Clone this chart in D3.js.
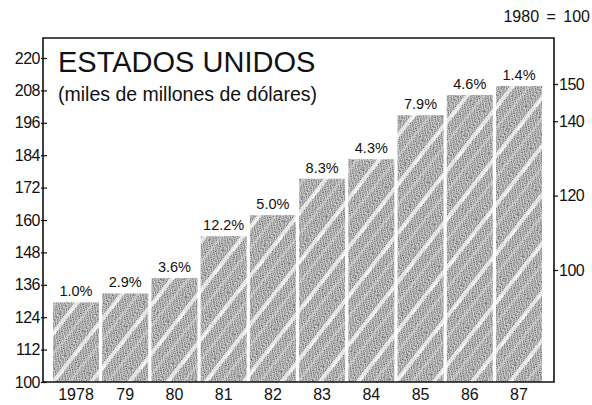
<!DOCTYPE html>
<html><head><meta charset="utf-8">
<script src="https://cdn.jsdelivr.net/npm/d3@7"></script>
<style>body{margin:0;background:#fff}svg{display:block}text{font-family:"Liberation Sans",Arial,sans-serif;fill:#111}</style>
</head><body>
<svg id="c" width="592" height="405"></svg>
<script>
const years = ["1978","79","80","81","82","83","84","85","86","87"];
const values = [129.5,132.8,138.5,154,161.8,175.3,182.5,198.8,206.3,209.6];
const pctLabels = ["1.0%","2.9%","3.6%","12.2%","5.0%","8.3%","4.3%","7.9%","4.6%","1.4%"];
const leftTicks = [100,112,124,136,148,160,172,184,196,208,220];
const rightTicks = [100,120,140,150];
const title = "ESTADOS UNIDOS";
const subtitle = "(miles de millones de dólares)";
const indexNote = "1980 = 100";

const svg = d3.select("#c");
const L = 43, R = 554, T = 38, B = 382;
const FONT = "Liberation Sans, Arial, sans-serif";

const x = d3.scaleBand().domain(years).range([51.5, 543.5]).paddingInner(0.065).paddingOuter(0.03);
const y = d3.scaleLinear().domain([100, 220]).range([B, 58]);
const y2 = d3.scaleLinear().domain([100, 150]).range([270, 84]);

// pattern: halftone grey with light diagonal streaks
const defs = svg.append("defs");
const dots = defs.append("pattern").attr("id","dots").attr("width",4).attr("height",4).attr("patternUnits","userSpaceOnUse");
dots.append("rect").attr("width",4).attr("height",4).attr("fill","#d2d2d2");
[[0,0,"#555"],[2,0,"#8a8a8a"],[1,1,"#6a6a6a"],[3,2,"#5c5c5c"],[0,2,"#9a9a9a"],[2,3,"#7a7a7a"],[1,3,"#aaa"]].forEach(([a,b,c])=>
  dots.append("rect").attr("x",a).attr("y",b).attr("width",1).attr("height",1).attr("fill",c));
const hatch = defs.append("pattern").attr("id","hatch").attr("width",30).attr("height",30)
  .attr("patternUnits","userSpaceOnUse").attr("patternTransform","rotate(-52)");
hatch.append("rect").attr("width",30).attr("height",30).attr("fill","url(#dots)");
hatch.append("rect").attr("x",0).attr("y",5).attr("width",30).attr("height",4).attr("fill","#f7f7f7").attr("opacity",0.75);
hatch.append("rect").attr("x",6).attr("y",7).attr("width",12).attr("height",2).attr("fill","#fff").attr("opacity",0.7);
hatch.append("rect").attr("x",0).attr("y",19).attr("width",30).attr("height",2).attr("fill","#e8e8e8").attr("opacity",0.45);

// bars
svg.append("g").selectAll("rect").data(values).join("rect")
  .attr("x",(d,i)=>x(years[i])).attr("width",x.bandwidth())
  .attr("y",d=>y(d)).attr("height",d=>B-y(d))
  .attr("fill","url(#hatch)");

// pct labels
svg.append("g").selectAll("text").data(values).join("text")
  .attr("x",(d,i)=>x(years[i])+x.bandwidth()/2).attr("y",d=>y(d)-6)
  .attr("text-anchor","middle").attr("font-size",14.5).text((d,i)=>pctLabels[i]);

// frame
svg.append("path").attr("d",`M${L},${B}V${T}H${R}V${B}H${L}`).attr("fill","none").attr("stroke","#111").attr("stroke-width",1.6);

// left axis
const la = svg.append("g").attr("transform",`translate(${L},0)`)
  .call(d3.axisLeft(y).tickValues(leftTicks).tickSize(0).tickPadding(3));
la.select(".domain").remove();
la.selectAll("text").attr("font-size",16).attr("fill","#111").attr("font-family",FONT).attr("letter-spacing",-0.5);
la.selectAll(".tick").append("line").attr("x1",-2).attr("x2",4).attr("stroke","#111").attr("stroke-width",1.2);

// right axis
const ra = svg.append("g").attr("transform",`translate(${R},0)`)
  .call(d3.axisRight(y2).tickValues(rightTicks).tickSize(0).tickPadding(5));
ra.select(".domain").remove();
ra.selectAll("text").attr("font-size",16).attr("fill","#111").attr("font-family",FONT).attr("letter-spacing",-0.5);
ra.selectAll(".tick").append("line").attr("x1",-1).attr("x2",4).attr("stroke","#111").attr("stroke-width",1.2);

// bottom axis
const ba = svg.append("g").attr("transform",`translate(0,${B})`)
  .call(d3.axisBottom(x).tickSize(0).tickPadding(7));
ba.select(".domain").remove();
ba.selectAll("text").attr("font-size",16).attr("fill","#111").attr("font-family",FONT);

// titles
svg.append("text").attr("x",58).attr("y",72).attr("font-size",29).text(title);
svg.append("text").attr("x",58).attr("y",101).attr("font-size",19.5).text(subtitle);
svg.append("text").attr("x",590).attr("y",22).attr("text-anchor","end").attr("font-size",16).attr("word-spacing",3).text(indexNote);
</script>
</body></html>
